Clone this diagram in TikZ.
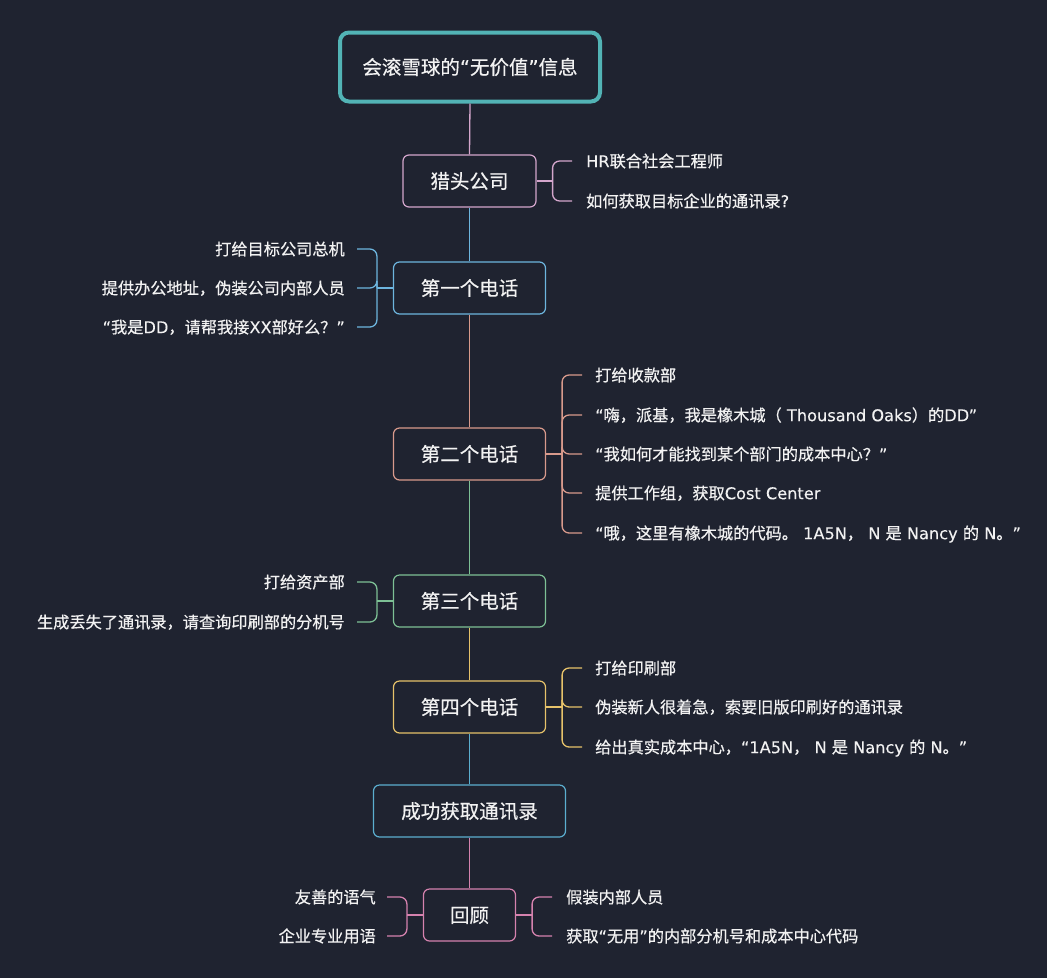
\documentclass[tikz,border=0pt]{standalone}
\usepackage{fontspec}
\setmainfont{Noto Sans CJK SC}[FakeBold=0.5]
\newfontfamily\latf{DejaVu Sans}[FakeBold=0.2]
% Latin runs and curly quotes are set in a Latin face
\newcommand\la[1]{{\latf #1}}
\newcommand\oq{{\latf “}}
\newcommand\cq{{\latf ”}}
\definecolor{bg}{HTML}{1F2330}
\definecolor{txt}{HTML}{F2F2F2}
\definecolor{cRoot}{HTML}{52B3B5}
\definecolor{cHead}{HTML}{D4A6CC}
\definecolor{cOne}{HTML}{6DB5DE}
\definecolor{cTwo}{HTML}{D89A8C}
\definecolor{cThree}{HTML}{7DC095}
\definecolor{cFour}{HTML}{E6C26A}
\definecolor{cWin}{HTML}{5BAECF}
\definecolor{cReview}{HTML}{D582AE}
\begin{document}
\begin{tikzpicture}[x=1pt,y=-1pt,
  topic/.style={draw, rounded corners=6pt, line width=1.2pt, fill=bg, text=txt,
    minimum height=52pt, inner sep=0pt,
    font=\fontsize{19.5}{20}\selectfont, text height=17.2pt, text depth=2.4pt},
  leaf/.style={inner sep=0pt, text=txt,
    font=\fontsize{16.2}{17}\selectfont, text height=14.3pt, text depth=1.95pt},
  link/.style={line width=1.3pt},
  brk/.style={line width=1.3pt, rounded corners=7pt},
]
% canvas
\fill[bg] (0,0) rectangle (1047,978);
\useasboundingbox (0,0) rectangle (1047,978);

% main topics down the trunk
\node[topic, draw=cRoot, line width=4pt, rounded corners=9pt,
      minimum width=260pt, minimum height=69pt] (root) at (470,67) {会滚雪球的\oq 无价值\cq 信息};
\node[topic, draw=cHead,   minimum width=133pt] (head)   at (469.5,181) {猎头公司};
\node[topic, draw=cOne,    minimum width=152pt] (one)    at (469.5,288) {第一个电话};
\node[topic, draw=cTwo,    minimum width=152pt] (two)    at (469.5,454) {第二个电话};
\node[topic, draw=cThree,  minimum width=152pt] (three)  at (469.5,601) {第三个电话};
\node[topic, draw=cFour,   minimum width=152pt] (four)   at (469.5,707) {第四个电话};
\node[topic, draw=cWin,    minimum width=192pt] (win)    at (469.5,811) {成功获取通讯录};
\node[topic, draw=cReview, minimum width=92pt]  (review) at (469.5,915) {回顾};

% trunk links, each in the colour of the lower topic
\draw[link, cHead]   (root.south)  -- (head.north);
\draw[link, cOne]    (head.south)  -- (one.north);
\draw[link, cTwo]    (one.south)   -- (two.north);
\draw[link, cThree]  (two.south)   -- (three.north);
\draw[link, cFour]   (three.south) -- (four.north);
\draw[link, cWin]    (four.south)  -- (win.north);
\draw[link, cReview] (win.south)   -- (review.north);

% 猎头公司
\node[leaf, anchor=west] (h1) at (586,161) {\la{HR}联合社会工程师};
\node[leaf, anchor=west] (h2) at (586,201) {如何获取目标企业的通讯录\la{?}};
\coordinate (headB) at ([xshift=16pt]head.east);
\draw[link, cHead] (head.east) -- (headB);
\foreach \t in {h1,h2} \draw[brk, cHead] (headB) |- ([xshift=-14pt]\t.west);

% 第一个电话
\node[leaf, anchor=east] (o1) at (345,249) {打给目标公司总机};
\node[leaf, anchor=east] (o2) at (345,288) {提供办公地址，伪装公司内部人员};
\node[leaf, anchor=east] (o3) at (345,327) {\oq 我是\la{DD}，请帮我接\la{XX}部好么？\cq};
\coordinate (oneB) at ([xshift=-16pt]one.west);
\draw[link, cOne] (one.west) -- (oneB);
\foreach \t in {o1,o2,o3} \draw[brk, cOne] (oneB) |- ([xshift=12pt]\t.east);

% 第二个电话
\node[leaf, anchor=west] (w1) at (595,375) {打给收款部};
\node[leaf, anchor=west] (w2) at (595,415) {\oq 嗨，派基，我是橡木城（\la{ Thousand Oaks}）的\la{DD}\cq};
\node[leaf, anchor=west] (w3) at (595,454) {\oq 我如何才能找到某个部门的成本中心？\cq};
\node[leaf, anchor=west] (w4) at (595,493) {提供工作组，获取\la{Cost Center}};
\node[leaf, anchor=west] (w5) at (595,533) {\oq 哦，这里有橡木城的代码。\la{ 1A5N}，\la{ N }是\la{ Nancy }的\la{ N}。\cq};
\coordinate (twoB) at ([xshift=16pt]two.east);
\draw[link, cTwo] (two.east) -- (twoB);
\foreach \t in {w1,w2,w3,w4,w5} \draw[brk, cTwo] (twoB) |- ([xshift=-13pt]\t.west);

% 第三个电话
\node[leaf, anchor=east] (t1) at (345,582) {打给资产部};
\node[leaf, anchor=east] (t2) at (345,622) {生成丢失了通讯录，请查询印刷部的分机号};
\coordinate (threeB) at ([xshift=-16pt]three.west);
\draw[link, cThree] (three.west) -- (threeB);
\foreach \t in {t1,t2} \draw[brk, cThree] (threeB) |- ([xshift=12pt]\t.east);

% 第四个电话
\node[leaf, anchor=west] (f1) at (595,668) {打给印刷部};
\node[leaf, anchor=west] (f2) at (595,707) {伪装新人很着急，索要旧版印刷好的通讯录};
\node[leaf, anchor=west] (f3) at (595,747) {给出真实成本中心，\oq\la{1A5N}，\la{ N }是\la{ Nancy }的\la{ N}。\cq};
\coordinate (fourB) at ([xshift=16pt]four.east);
\draw[link, cFour] (four.east) -- (fourB);
\foreach \t in {f1,f2,f3} \draw[brk, cFour] (fourB) |- ([xshift=-13pt]\t.west);

% 回顾
\node[leaf, anchor=east] (r1) at (376,897) {友善的语气};
\node[leaf, anchor=east] (r2) at (376,936) {企业专业用语};
\node[leaf, anchor=west] (r3) at (566,897) {假装内部人员};
\node[leaf, anchor=west] (r4) at (566,936) {获取\oq 无用\cq 的内部分机号和成本中心代码};
\coordinate (reviewL) at ([xshift=-16pt]review.west);
\coordinate (reviewR) at ([xshift=16pt]review.east);
\draw[link, cReview] (review.west) -- (reviewL);
\draw[link, cReview] (review.east) -- (reviewR);
\foreach \t in {r1,r2} \draw[brk, cReview] (reviewL) |- ([xshift=11pt]\t.east);
\foreach \t in {r3,r4} \draw[brk, cReview] (reviewR) |- ([xshift=-14pt]\t.west);
\end{tikzpicture}
\end{document}
